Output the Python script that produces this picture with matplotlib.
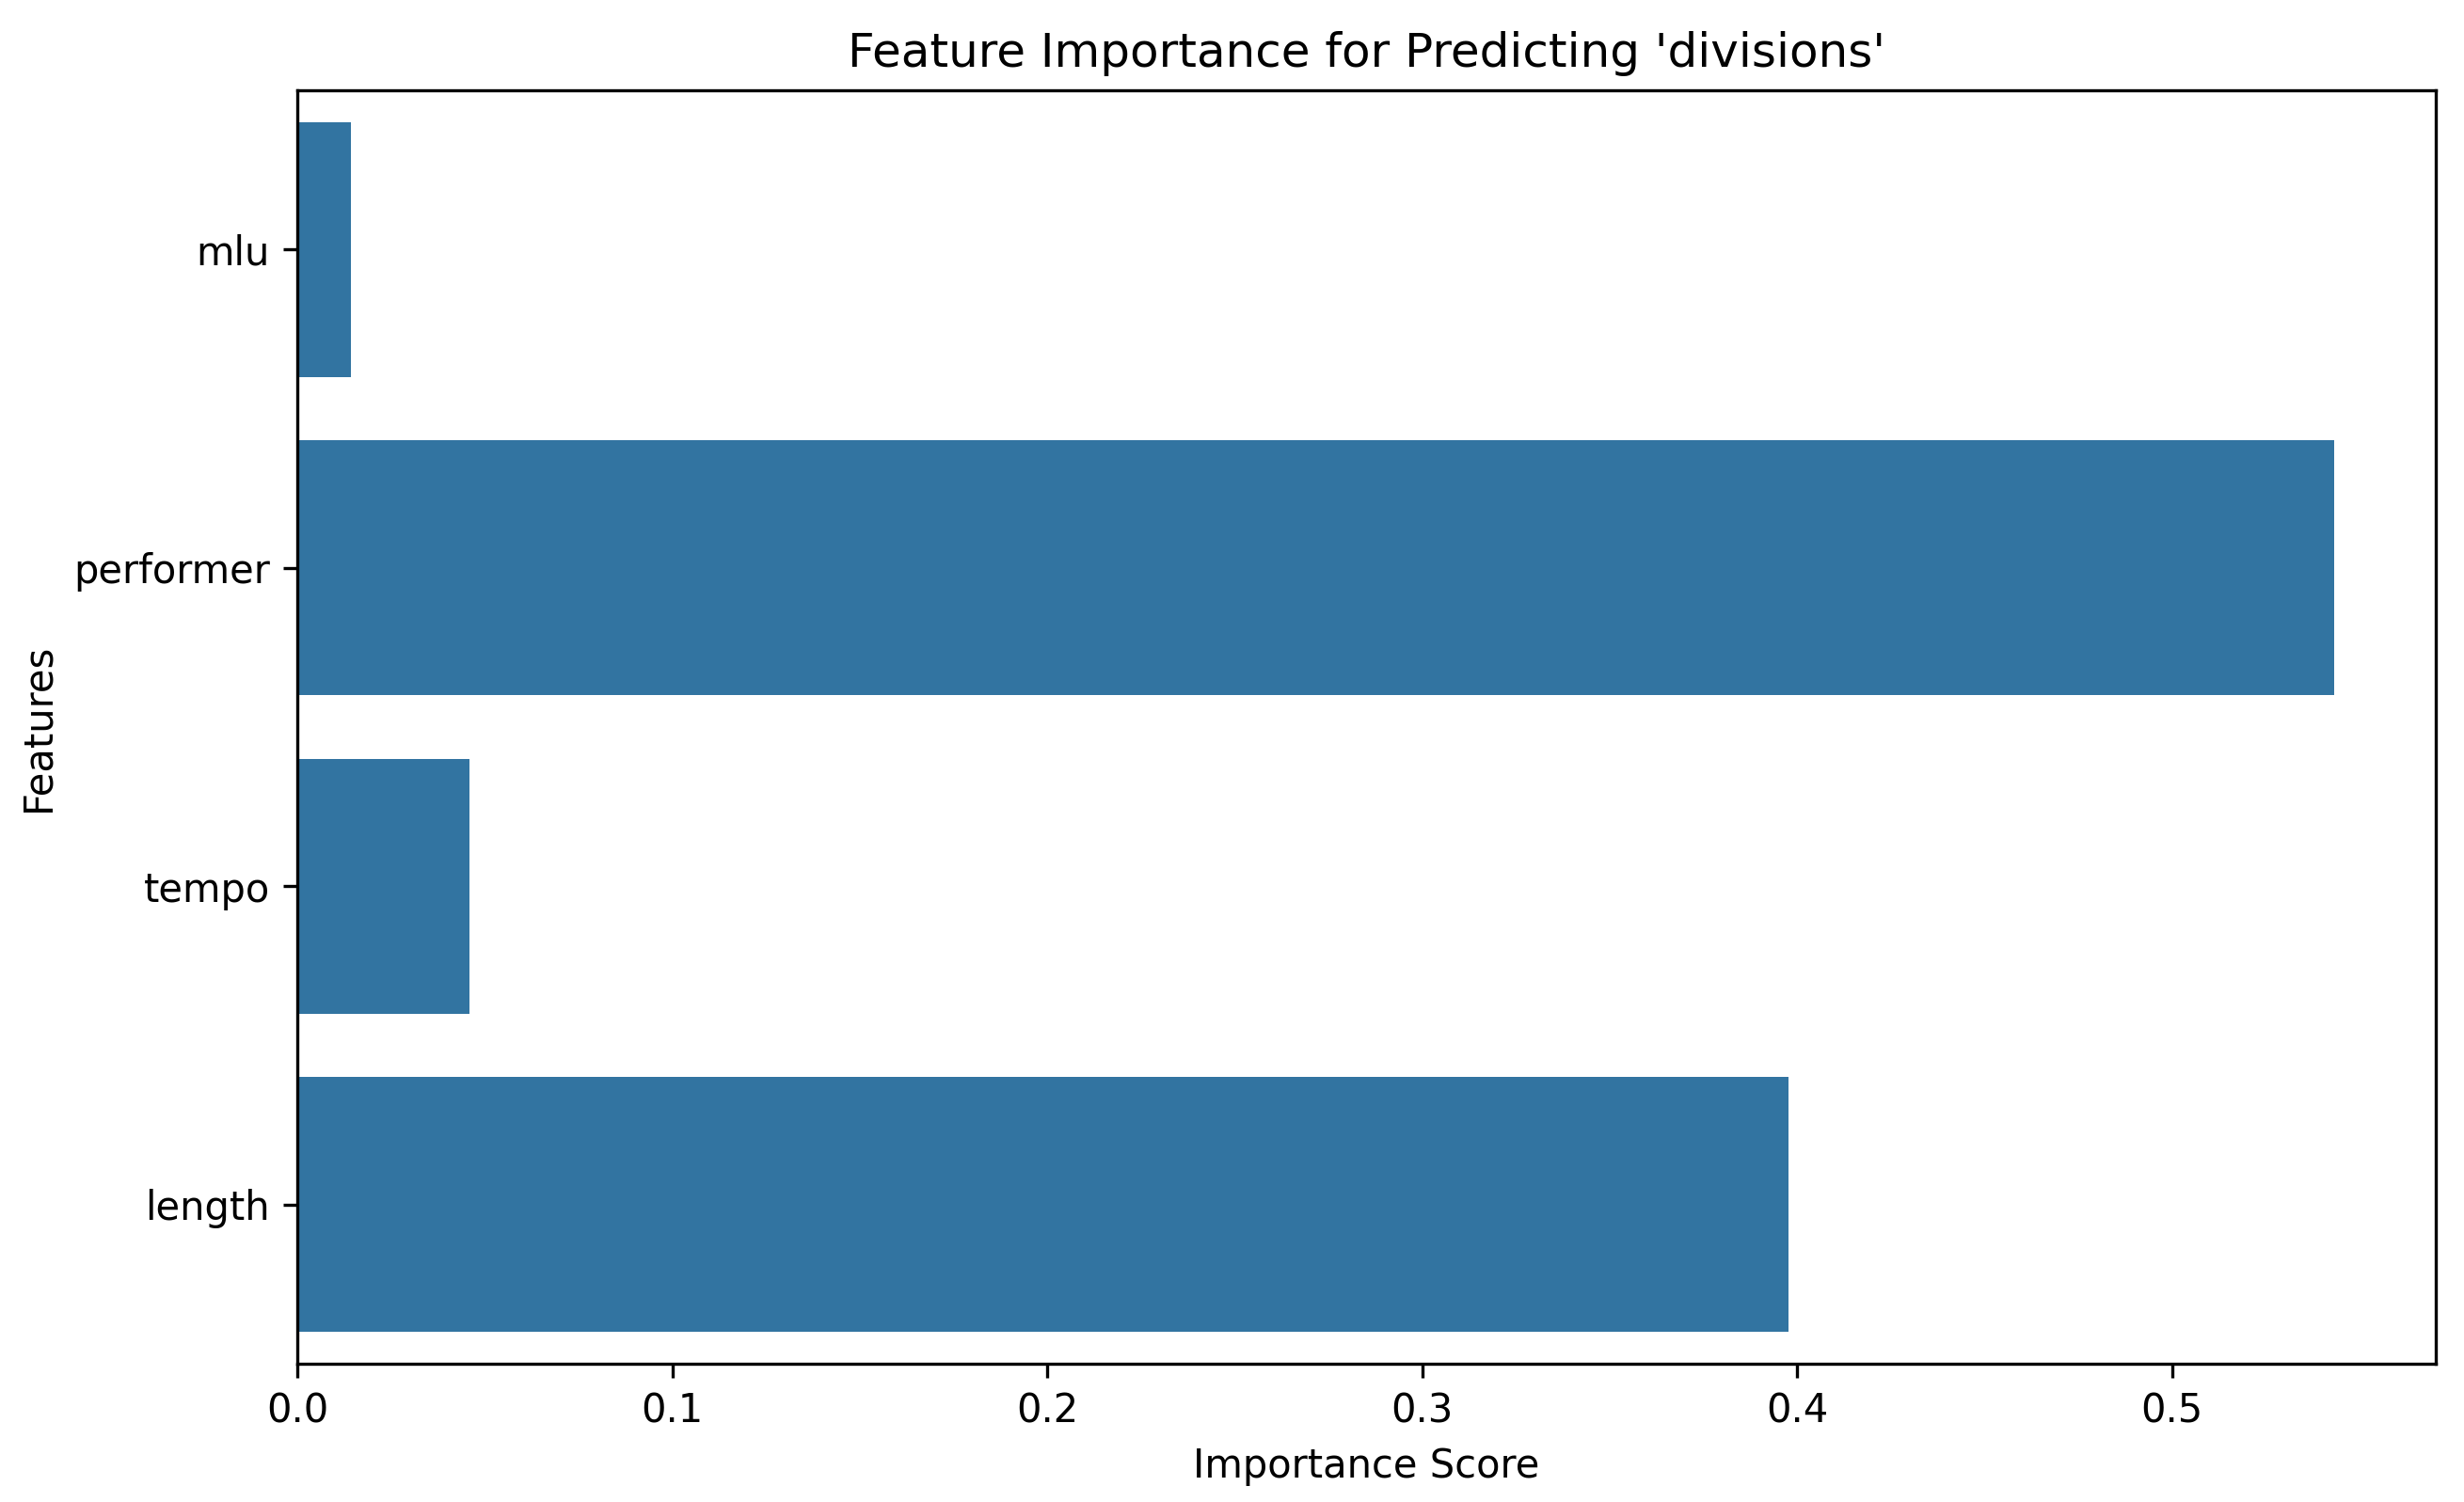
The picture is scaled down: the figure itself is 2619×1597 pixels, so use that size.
import matplotlib
matplotlib.use("Agg")
import matplotlib.pyplot as plt
import seaborn as sns
import pandas as pd

# importance scores
features = ["mlu", "performer", "tempo", "length"]
importance = [0.0143, 0.5432, 0.0458, 0.3978]

df = pd.DataFrame({"Feature": features, "Importance": importance})

dpi = 300
fig = plt.figure(figsize=(2619 / dpi, 1597 / dpi), dpi=dpi)
ax = fig.add_axes([0.1207, 0.092, 0.9885 - 0.1207, 0.9400 - 0.092])

sns.barplot(data=df, x="Importance", y="Feature", ax=ax)

ax.set_title("Feature Importance for Predicting 'divisions'", fontsize=12)
ax.set_xlabel("Importance Score")
ax.set_ylabel("Features")

fig.savefig("out.png", dpi=dpi)
